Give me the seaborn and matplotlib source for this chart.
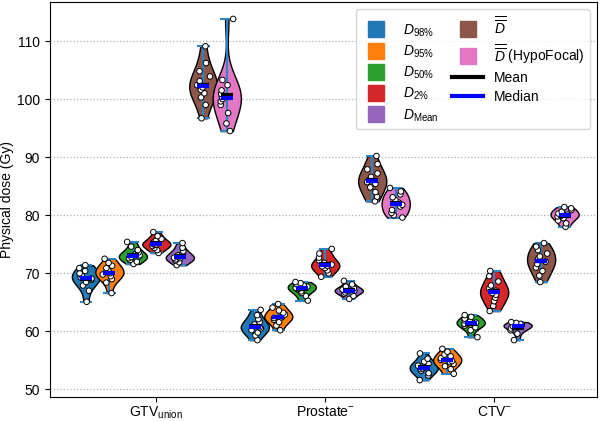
"""
Violin plots of physical dose metrics per structure.
"""

import numpy as np
import pandas as pd

import matplotlib
matplotlib.use("Agg")

import matplotlib.pyplot as plt
import seaborn as sns
from matplotlib.lines import Line2D


# ------------------------ DATA --------------------------

STRUCTURES = ["GTV_union", "Prostate-", "CTV-"]
TICK_LABELS = [r"GTV$_{\mathrm{union}}$", r"Prostate$^{-}$", r"CTV$^{-}$"]
METRICS = ["D98", "D95", "D50", "D2", "DMean", "Dbar", "Dbar_hypo"]
LEGEND_LABELS = [
    r"$D_{\mathrm{98\%}}$",
    r"$D_{\mathrm{95\%}}$",
    r"$D_{\mathrm{50\%}}$",
    r"$D_{\mathrm{2\%}}$",
    r"$D_{\mathrm{Mean}}$",
    r"$\overline{\overline{D}}$",
    r"$\overline{\overline{D}}$ (HypoFocal)",
]
COLORS = ["#1f77b4", "#ff7f0e", "#2ca02c", "#d62728",
          "#9467bd", "#8c564b", "#e377c2"]

# GTV union (Gy)
GTV_D98 = [65.1, 67.0, 67.9, 68.5, 68.9, 69.1, 69.3, 69.6, 70.0, 70.4, 70.9, 71.4]
GTV_D95 = [66.6, 68.4, 69.0, 69.5, 69.8, 70.0, 70.2, 70.5, 70.9, 71.3, 71.8, 72.5]
GTV_D50 = [71.6, 72.0, 72.3, 72.6, 72.8, 72.9, 73.1, 73.3, 73.6, 74.0, 74.6, 75.4]
GTV_D2 = [73.5, 74.0, 74.4, 74.7, 74.9, 74.95, 75.05, 75.3, 75.6, 75.9, 76.4, 77.1]
GTV_DMEAN = [71.4, 71.9, 72.2, 72.4, 72.6, 72.7, 72.9, 73.1, 73.4, 73.8, 74.4, 75.2]
GTV_DBAR = [96.7, 99.0, 100.3, 101.0, 101.6, 102.0, 102.4, 103.1, 103.9, 104.8, 106.2, 109.1]
GTV_DBAR_HYPO = [94.5, 95.8, 97.6, 99.0, 99.6, 100.0, 100.4, 100.9, 101.5, 102.4, 103.3, 113.8]

# Prostate minus (Gy)
PRO_D98 = [58.5, 59.3, 59.8, 60.2, 60.5, 60.7, 60.9, 61.2, 61.6, 62.1, 62.8, 63.7]
PRO_D95 = [60.2, 61.0, 61.6, 62.0, 62.3, 62.4, 62.6, 62.9, 63.2, 63.6, 64.1, 64.7]
PRO_D50 = [65.3, 66.1, 66.6, 66.9, 67.2, 67.3, 67.5, 67.7, 67.9, 68.1, 68.3, 68.5]
PRO_D2 = [69.4, 70.0, 70.5, 70.9, 71.2, 71.3, 71.5, 71.8, 72.2, 72.7, 73.4, 74.2]
PRO_DMEAN = [65.6, 66.1, 66.5, 66.7, 66.9, 67.0, 67.05, 67.2, 67.4, 67.7, 68.1, 68.7]
PRO_DBAR = [82.4, 83.2, 84.0, 84.8, 85.4, 85.7, 86.1, 86.6, 87.2, 87.9, 88.8, 90.2]
PRO_DBAR_HYPO = [79.6, 80.0, 80.4, 80.9, 81.5, 81.8, 82.2, 82.6, 83.1, 83.6, 84.1, 84.7]

# CTV minus (Gy)
CTV_D98 = [51.6, 52.4, 52.8, 53.2, 53.5, 53.6, 53.8, 54.1, 54.4, 54.8, 55.3, 56.2]
CTV_D95 = [52.7, 53.5, 54.0, 54.4, 54.7, 54.9, 55.1, 55.4, 55.7, 56.0, 56.5, 57.0]
CTV_D50 = [59.0, 60.2, 60.7, 61.0, 61.2, 61.3, 61.5, 61.7, 61.9, 62.2, 62.5, 62.8]
CTV_D2 = [63.5, 64.4, 65.2, 65.8, 66.3, 66.6, 67.0, 67.4, 67.9, 68.6, 69.5, 70.4]
CTV_DMEAN = [58.5, 59.6, 60.2, 60.5, 60.7, 60.85, 60.95, 61.05, 61.15, 61.3, 61.45, 61.6]
CTV_DBAR = [68.5, 69.6, 70.4, 71.0, 71.6, 72.0, 72.4, 72.9, 73.4, 74.0, 74.6, 75.2]
CTV_DBAR_HYPO = [78.0, 78.6, 79.1, 79.5, 79.8, 79.9, 80.1, 80.3, 80.6, 80.9, 81.2, 81.4]

GTV_DOSES = [GTV_D98, GTV_D95, GTV_D50, GTV_D2, GTV_DMEAN, GTV_DBAR, GTV_DBAR_HYPO]
PRO_DOSES = [PRO_D98, PRO_D95, PRO_D50, PRO_D2, PRO_DMEAN, PRO_DBAR, PRO_DBAR_HYPO]
CTV_DOSES = [CTV_D98, CTV_D95, CTV_D50, CTV_D2, CTV_DMEAN, CTV_DBAR, CTV_DBAR_HYPO]

# spacing between violins inside a structure group (x units)
STEP = 0.139


def build_frame():
    rows = []
    for si, doses in enumerate([GTV_DOSES, PRO_DOSES, CTV_DOSES]):
        for mi, vals in enumerate(doses):
            pos = round(si + (mi - 3) * STEP, 4)
            for v in vals:
                rows.append({"structure": STRUCTURES[si], "metric": METRICS[mi],
                             "pos": pos, "dose": v})
    return pd.DataFrame(rows)


def main():
    plt.rcParams["font.family"] = ["Liberation Sans", "DejaVu Sans"]
    plt.rcParams["mathtext.fontset"] = "custom"
    plt.rcParams["mathtext.rm"] = "Liberation Sans"
    plt.rcParams["mathtext.it"] = "Liberation Sans:italic"
    plt.rcParams["mathtext.bf"] = "Liberation Sans:bold"

    df = build_frame()
    np.random.seed(3)

    fig = plt.figure(figsize=(6.02, 4.21), dpi=100)
    ax = fig.add_axes([0.083, 0.057, 0.909, 0.938])

    sns.violinplot(data=df, x="pos", y="dose", hue="metric", hue_order=METRICS,
                   palette=COLORS, native_scale=True, cut=0, inner=None,
                   density_norm="width", width=1.2, saturation=1,
                   linecolor="black", linewidth=1, legend=False, ax=ax)

    # extrema whiskers
    stats = df.groupby("pos")["dose"].agg(["min", "max", "mean", "median"]).reset_index()
    cap = 0.038
    hw = 0.036
    ax.vlines(stats["pos"], stats["min"], stats["max"], color="#2a84c6", lw=1.5, zorder=3)
    ax.hlines(stats["min"], stats["pos"] - cap, stats["pos"] + cap, color="#2a84c6", lw=1.5, zorder=3)
    ax.hlines(stats["max"], stats["pos"] - cap, stats["pos"] + cap, color="#2a84c6", lw=1.5, zorder=3)

    sns.stripplot(data=df, x="pos", y="dose", hue="metric", hue_order=METRICS,
                  palette=["white"] * len(METRICS), native_scale=True, jitter=0.3,
                  size=4, edgecolor="black", linewidth=0.7, legend=False,
                  zorder=4, ax=ax)

    # mean and median bars on top
    ax.hlines(stats["mean"], stats["pos"] - hw, stats["pos"] + hw, color="black", lw=3, zorder=6)
    ax.hlines(stats["median"], stats["pos"] - hw, stats["pos"] + hw, color="blue", lw=3, zorder=7)

    ax.set_xlim(-0.63, 2.61)
    ax.set_ylim(48.7, 116.7)
    ax.set_xticks(range(len(STRUCTURES)))
    ax.set_xticklabels(TICK_LABELS, fontsize=10)
    ax.set_yticks(np.arange(50, 111, 10))
    ax.tick_params(axis="y", labelsize=10)
    ax.tick_params(axis="x", pad=2)
    ax.set_xlabel("")
    ax.set_ylabel("Physical dose (Gy)", fontsize=10, labelpad=2)

    ax.set_axisbelow(True)
    ax.yaxis.grid(True, linestyle=":", color="#b0b0b0", linewidth=0.9)

    handles = [Line2D([0], [0], marker="s", linestyle="none", markerfacecolor=c,
                      markeredgecolor=c, markersize=12) for c in COLORS]
    handles += [Line2D([0], [0], color="black", lw=3),
                Line2D([0], [0], color="blue", lw=3)]
    labels = LEGEND_LABELS + ["Mean", "Median"]
    ax.legend(handles, labels, ncol=2, loc="upper right", fontsize=10,
              handlelength=2.2, columnspacing=1.0, labelspacing=0.35)

    fig.savefig("out.png", dpi=100)
    plt.close(fig)


if __name__ == "__main__":
    main()
